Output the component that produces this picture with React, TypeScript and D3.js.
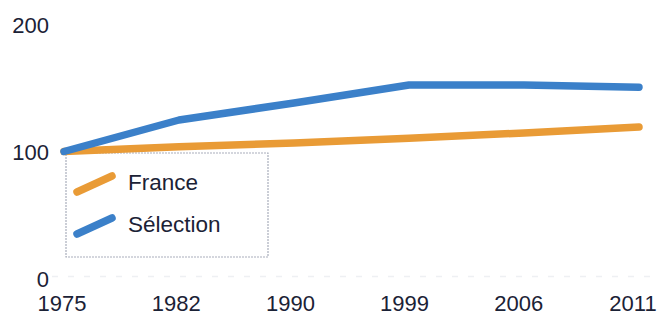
import { useEffect, useRef } from "react";
import * as d3 from "d3";

const years = ["1975", "1982", "1990", "1999", "2006", "2011"];
const france = [100, 103.8, 106.7, 110.4, 114.6, 119.3];
const selection = [100, 124.8, 138.2, 152.4, 152.4, 150.6];
const yTicks = [0, 100, 200];
const legendItems = [
  { label: "France", color: "#e99b36" },
  { label: "Sélection", color: "#3b80c9" },
];

const FONT = "'Liberation Sans', Arial, sans-serif";
const INK = "#1b2236";

function renderChart(el: SVGSVGElement) {
  const w = 659,
    h = 316;
  const svg = d3.select(el);
  svg.selectAll("*").remove();
  svg.attr("width", w).attr("height", h).attr("viewBox", `0 0 ${w} ${h}`);

  const x = d3.scalePoint<string>().domain(years).range([64, 639]);
  const xLab = d3.scalePoint<string>().domain(years).range([62, 633]);
  const y = d3.scaleLinear().domain([0, 200]).range([278.5, 24.5]);

  // faint baseline
  svg
    .append("line")
    .attr("x1", 52)
    .attr("x2", w)
    .attr("y1", y(0) - 2)
    .attr("y2", y(0) - 2)
    .attr("stroke", "#eef0f3")
    .attr("stroke-width", 1.5)
    .attr("stroke-dasharray", "6,10");

  svg
    .selectAll(".ytick")
    .data(yTicks)
    .join("text")
    .attr("x", 49)
    .attr("y", (d) => y(d) + 8)
    .attr("text-anchor", "end")
    .attr("font-family", FONT)
    .attr("font-size", 22)
    .attr("fill", INK)
    .text((d) => d);

  svg
    .selectAll(".xtick")
    .data(years)
    .join("text")
    .attr("x", (d) => xLab(d)!)
    .attr("y", 311)
    .attr("text-anchor", "middle")
    .attr("font-family", FONT)
    .attr("font-size", 22)
    .attr("fill", INK)
    .text((d) => d);

  // legend box
  svg
    .append("rect")
    .attr("x", 66)
    .attr("y", 153)
    .attr("width", 202)
    .attr("height", 104)
    .attr("fill", "none")
    .attr("stroke", "#a9aebb")
    .attr("stroke-width", 1.2)
    .attr("stroke-dasharray", "2,1");

  const line = d3
    .line<number>()
    .x((_, i) => x(years[i])!)
    .y((d) => y(d));

  [france, selection].forEach((s, i) => {
    svg
      .append("path")
      .datum(s)
      .attr("d", line)
      .attr("fill", "none")
      .attr("stroke", legendItems[i].color)
      .attr("stroke-width", 7.5)
      .attr("stroke-linecap", "round")
      .attr("stroke-linejoin", "round");
  });

  const lg = svg
    .selectAll(".leg")
    .data(legendItems)
    .join("g")
    .attr("transform", (_, i) => `translate(0,${i * 42})`);
  lg.append("line")
    .attr("x1", 77)
    .attr("y1", 192)
    .attr("x2", 112)
    .attr("y2", 176)
    .attr("stroke", (d) => d.color)
    .attr("stroke-width", 7.5)
    .attr("stroke-linecap", "round");
  lg.append("text")
    .attr("x", 128)
    .attr("y", 190)
    .attr("font-family", FONT)
    .attr("font-size", 22.5)
    .attr("fill", INK)
    .text((d) => d.label);
}

export default function App() {
  const ref = useRef<SVGSVGElement>(null);
  useEffect(() => {
    if (ref.current) renderChart(ref.current);
  }, []);
  return <svg ref={ref} style={{ position: "absolute", left: 0, top: 0, background: "#fff" }} />;
}
